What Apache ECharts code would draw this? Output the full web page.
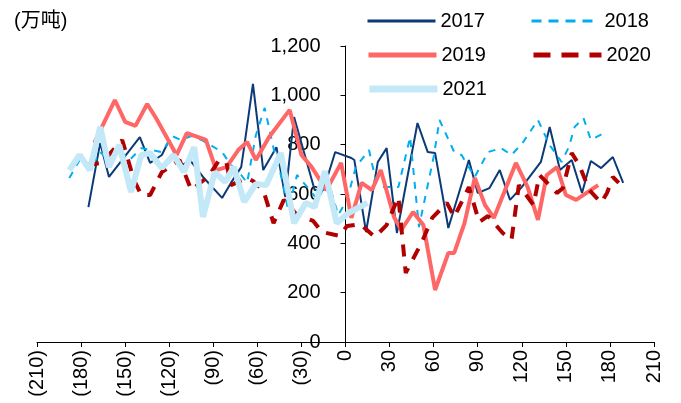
<!DOCTYPE html>
<html>
<head>
<meta charset="utf-8">
<script src="https://cdn.jsdelivr.net/npm/echarts@6/dist/echarts.min.js"></script>
<style>
  html, body { margin: 0; padding: 0; background: #fff; }
  #main { width: 681px; height: 403px; }
</style>
</head>
<body>
<div id="main"></div>
<script>
// 横轴: 天数 (负数为括号), 纵轴: 万吨
var xTicks = [-210, -180, -150, -120, -90, -60, -30, 0, 30, 60, 90, 120, 150, 180, 210];
var yTicks = [0, 200, 400, 600, 800, 1000, 1200];

var days2017 = [-175, -167, -161, -140, -133, -125, -120, -113, -106, -97, -84, -78, -71, -69, -63, -59, -56, -47, -41, -35, -21, -15, -7, 4, 6, 14, 22, 28, 35, 49, 56, 61, 70, 84, 90, 98, 105, 112, 120, 133, 139, 146, 154, 161, 167, 174, 182, 189];
var vals2017 = [547, 807, 669, 831, 726, 758, 819, 709, 738, 669, 584, 645, 709, 790, 1046, 847, 697, 790, 588, 912, 616, 616, 770, 746, 738, 446, 730, 786, 442, 888, 770, 766, 462, 738, 604, 624, 697, 576, 628, 730, 872, 697, 738, 604, 734, 705, 750, 645];

var days2018 = [-188, -181, -174, -167, -161, -154, -147, -139, -132, -125, -118, -112, -105, -98, -91, -84, -78, -71, -67, -61, -55, -49, -44, -39, -33, -26, -19, -12, -5, 1, 7, 16, 21, 26, 36, 44, 50, 60, 64, 74, 79, 88, 97, 106, 113, 121, 131, 139, 147, 152, 156, 162, 167, 176];
var vals2018 = [665, 738, 697, 770, 738, 778, 738, 786, 778, 770, 835, 819, 835, 819, 795, 770, 718, 677, 645, 839, 949, 786, 677, 535, 677, 628, 576, 657, 515, 576, 709, 778, 645, 628, 628, 831, 466, 750, 900, 770, 758, 669, 770, 786, 758, 811, 900, 798, 730, 790, 872, 908, 819, 847];

var days2019 = [-171, -157, -150, -143, -135, -129, -115, -108, -95, -88, -81, -73, -67, -61, -52, -38, -30, -23, -13, -3, 4, 11, 18, 24, 33, 38, 46, 53, 61, 70, 74, 81, 88, 95, 101, 116, 124, 131, 137, 144, 150, 157, 172];
var vals2019 = [807, 981, 892, 876, 965, 908, 758, 847, 819, 697, 709, 778, 811, 738, 831, 941, 758, 709, 616, 726, 503, 645, 616, 697, 507, 454, 527, 474, 211, 361, 361, 482, 665, 555, 503, 726, 628, 495, 677, 709, 596, 576, 636];

var days2020 = [-176, -166, -152, -144, -139, -133, -125, -113, -105, -93, -86, -81, -78, -67, -63, -56, -49, -42, -33, -22, -16, -4, 1, 10, 20, 28, 36, 41, 52, 59, 69, 74, 84, 91, 97, 107, 113, 118, 128, 132, 144, 148, 154, 159, 166, 174, 178, 182, 186];
var vals2020 = [718, 726, 819, 657, 596, 596, 689, 738, 616, 673, 738, 726, 636, 665, 653, 616, 482, 576, 515, 491, 446, 430, 470, 478, 426, 474, 588, 280, 405, 503, 564, 507, 628, 486, 511, 442, 414, 636, 555, 677, 604, 624, 766, 718, 616, 564, 604, 669, 645];

var days2021 = [-188, -181, -174, -167, -161, -154, -146, -139, -133, -125, -117, -110, -103, -97, -89, -82, -76, -69, -61, -54, -44, -35, -27, -21, -14, -6, 2, 15];
var vals2021 = [697, 758, 697, 872, 709, 799, 608, 758, 766, 705, 758, 689, 790, 507, 689, 649, 709, 568, 641, 636, 766, 482, 564, 547, 693, 482, 523, 564];

function pairs(xs, ys) {
  var out = [];
  for (var i = 0; i < xs.length; i++) out.push([xs[i], ys[i]]);
  return out;
}

var fontBase = 'Liberation Sans, Arial, sans-serif';

var W = 681, gridLeft = 37, gridRight = 27;
var xMin = xTicks[0], xMax = xTicks[xTicks.length - 1];
// y轴放在横轴0处
var yAxisOffset = -(0 - xMin) / (xMax - xMin) * (W - gridLeft - gridRight);

// 图例线条样式
var legendLines = {
  '2017': { width: 3 },
  '2018': { width: 3, type: [10, 7] },
  '2019': { width: 5 },
  '2020': { width: 5, type: [17, 11] },
  '2021': { width: 7 }
};

function legendItem(name) {
  return { name: name, lineStyle: legendLines[name] };
}

var option = {
  animation: false,
  backgroundColor: '#fff',
  title: {
    text: '(万吨)',
    left: 9,
    top: 6,
    textStyle: { fontSize: 20, fontWeight: 'normal', color: '#000', fontFamily: 'Liberation Sans, Noto Sans CJK SC, sans-serif' }
  },
  legend: [
    { data: [legendItem('2017'), legendItem('2018')], left: 361, top: 6 },
    { data: [legendItem('2019'), legendItem('2020')], left: 361, top: 40 },
    { data: [legendItem('2021')], left: 361, top: 74 }
  ].map(function (l) {
    l.itemWidth = 68;
    l.itemHeight = 14;
    l.itemGap = 45;
    l.itemStyle = { opacity: 0 };
    l.textStyle = { fontSize: 20, color: '#000', fontFamily: fontBase };
    return l;
  }),
  grid: { left: gridLeft, right: gridRight, top: 46, bottom: 61, containLabel: false, outerBoundsMode: 'none' },
  xAxis: {
    type: 'value',
    min: xMin,
    max: xMax,
    interval: 30,
    splitLine: { show: false },
    axisLine: { lineStyle: { color: '#000', width: 1 } },
    axisTick: { show: true, length: 5, lineStyle: { color: '#000' } },
    axisLabel: {
      rotate: 90,
      margin: 8,
      fontSize: 20,
      color: '#000',
      fontFamily: fontBase,
      formatter: function (v) { return v < 0 ? '(' + (-v) + ')' : String(v); }
    }
  },
  yAxis: {
    type: 'value',
    min: yTicks[0],
    max: yTicks[yTicks.length - 1],
    interval: 200,
    offset: yAxisOffset,
    splitLine: { show: false },
    axisLine: { show: true, onZero: false, lineStyle: { color: '#000', width: 1 } },
    axisTick: { show: true, length: 5, lineStyle: { color: '#000' } },
    axisLabel: {
      margin: 25,
      fontSize: 20,
      color: '#000',
      fontFamily: fontBase,
      formatter: function (v) { return v.toLocaleString('en-US'); }
    }
  },
  series: [
    { name: '2017', type: 'line', data: pairs(days2017, vals2017), symbol: 'none',
      lineStyle: { color: '#0B3A78', width: 2 }, itemStyle: { color: '#0B3A78' } },
    { name: '2018', type: 'line', data: pairs(days2018, vals2018), symbol: 'none',
      lineStyle: { color: '#00AEEF', width: 2, type: [7, 7] }, itemStyle: { color: '#00AEEF' } },
    { name: '2019', type: 'line', data: pairs(days2019, vals2019), symbol: 'none',
      lineStyle: { color: '#FF6666', width: 4 }, itemStyle: { color: '#FF6666' } },
    { name: '2020', type: 'line', data: pairs(days2020, vals2020), symbol: 'none',
      lineStyle: { color: '#B00000', width: 4, type: [12, 10] }, itemStyle: { color: '#B00000' } },
    { name: '2021', type: 'line', data: pairs(days2021, vals2021), symbol: 'none',
      lineStyle: { color: '#C3E8F8', width: 6 }, itemStyle: { color: '#C3E8F8' } }
  ]
};

echarts.init(document.getElementById('main')).setOption(option);
</script>
</body>
</html>
